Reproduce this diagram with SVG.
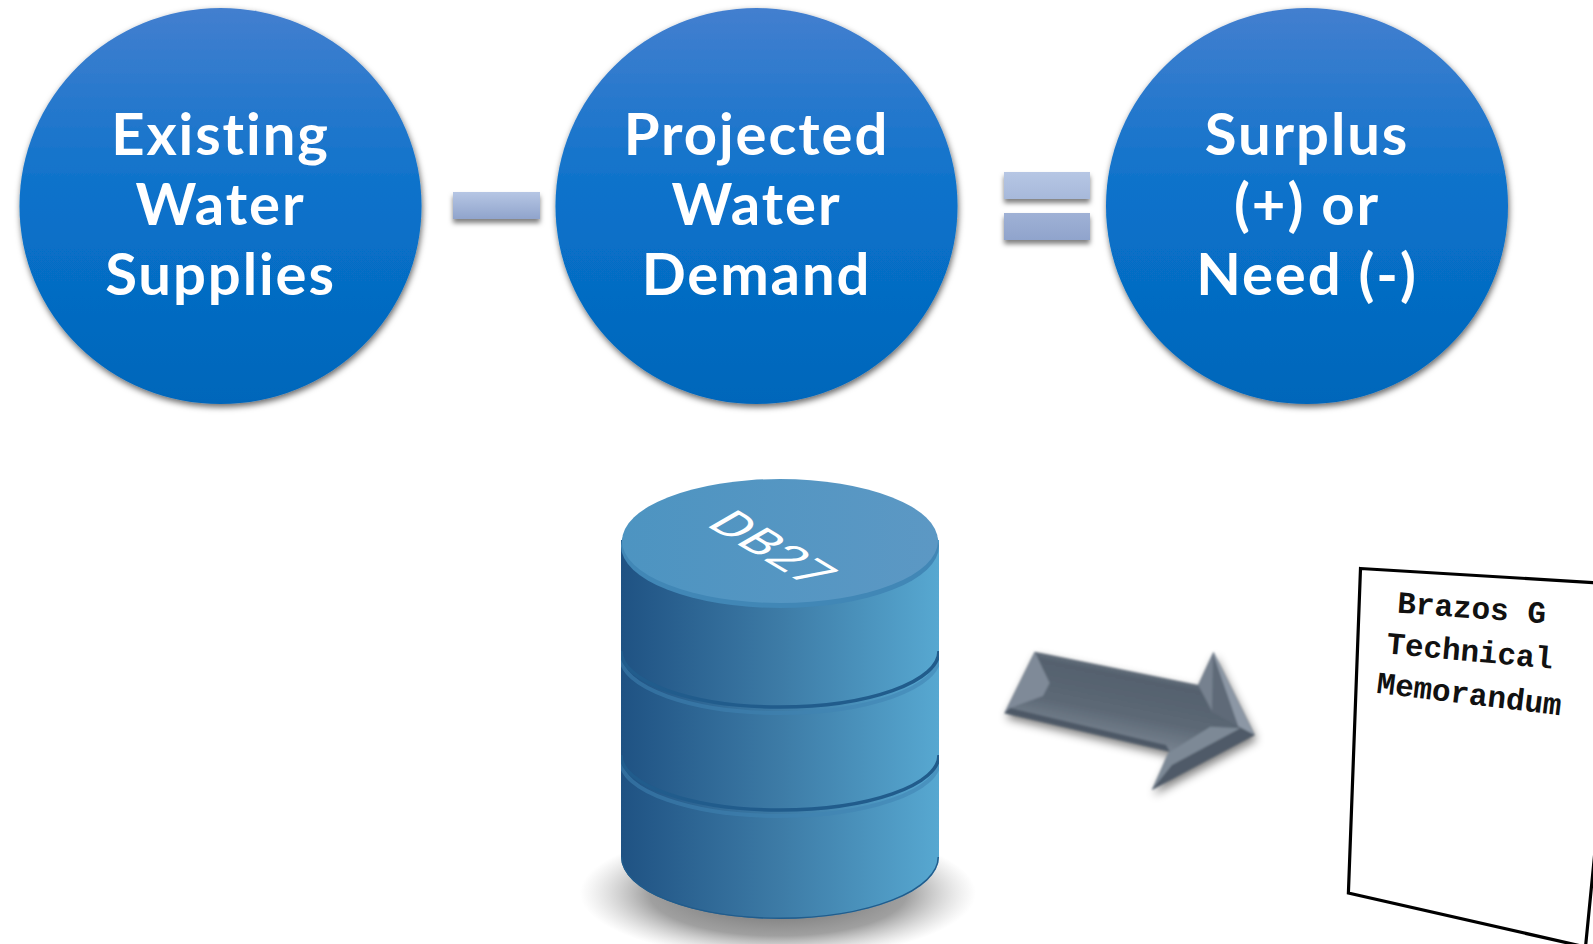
<svg xmlns="http://www.w3.org/2000/svg" width="1593" height="944" viewBox="0 0 1593 944">
<style>
.t{font-family:Lato,"Open Sans",sans-serif;font-weight:700;font-size:58px;letter-spacing:1.9px;fill:#fff;text-anchor:middle}
.m{font-family:"Liberation Mono",monospace;font-weight:700;font-size:31px;fill:#111;text-anchor:middle}
.c{fill:url(#cg);filter:url(#cs)}
.b{filter:url(#bs)}
.sep{fill:none;stroke:#215c8c;stroke-width:3.5}
.sepl{fill:none;stroke:#3f83b2;stroke-width:4;opacity:.55}
</style>
<defs>
<linearGradient id="cg" x1="0" y1="0" x2="0" y2="1"><stop offset="0" stop-color="#437fcf"/><stop offset=".5" stop-color="#0871ca"/><stop offset="1" stop-color="#0366ba"/></linearGradient>
<linearGradient id="bg1" gradientUnits="userSpaceOnUse" x1="0" y1="172" x2="0" y2="240"><stop offset="0" stop-color="#b6c6e4"/><stop offset="1" stop-color="#90a4cc"/></linearGradient>
<linearGradient id="bg2" x1="0" y1="0" x2="0" y2="1"><stop offset="0" stop-color="#b6c6e4"/><stop offset="1" stop-color="#90a4cc"/></linearGradient>
<linearGradient id="side" gradientUnits="userSpaceOnUse" x1="621" y1="0" x2="939" y2="0"><stop offset="0" stop-color="#1f5283"/><stop offset=".5" stop-color="#3d7ba6"/><stop offset="1" stop-color="#57a8d1"/></linearGradient>
<linearGradient id="top" gradientUnits="userSpaceOnUse" x1="621" y1="0" x2="939" y2="0"><stop offset="0" stop-color="#4d94c1"/><stop offset="1" stop-color="#5c98c4"/></linearGradient>
<linearGradient id="ab" gradientUnits="userSpaceOnUse" x1="1090" y1="660" x2="1075" y2="735"><stop offset="0" stop-color="#66727f"/><stop offset=".12" stop-color="#55616e"/><stop offset=".6" stop-color="#5c6875"/><stop offset="1" stop-color="#7a8592"/></linearGradient>
<radialGradient id="gs"><stop offset="0" stop-color="#555" stop-opacity=".95"/><stop offset=".65" stop-color="#777" stop-opacity=".7"/><stop offset="1" stop-color="#aaa" stop-opacity="0"/></radialGradient>
<clipPath id="body"><path d="M621,530V857A159,62 0 0 0 939,857V530Z"/></clipPath>
<filter id="cs" x="-10%" y="-10%" width="120%" height="120%"><feDropShadow dx="1" dy="3" stdDeviation="3" flood-color="#000" flood-opacity=".6"/></filter>
<filter id="bs" x="-10%" y="-30%" width="120%" height="170%"><feDropShadow dx="0" dy="4" stdDeviation="2.5" flood-color="#000" flood-opacity=".5"/></filter>
<filter id="as" x="-10%" y="-15%" width="120%" height="130%"><feGaussianBlur stdDeviation="5"/></filter>
<filter id="soft" x="-5%" y="-5%" width="110%" height="110%"><feGaussianBlur stdDeviation="1.1"/></filter>
</defs>
<rect width="1593" height="944" fill="#fff"/>

<g id="existing">
<ellipse class="c" cx="220.5" cy="206" rx="201" ry="198"/>
<text class="t" x="220.5" y="155">Existing</text><text class="t" x="220.5" y="225">Water</text><text class="t" x="220.5" y="295">Supplies</text>
</g>
<g id="minus"><rect class="b" x="453" y="192" width="87" height="27" fill="url(#bg2)"/></g>
<g id="projected">
<ellipse class="c" cx="756.5" cy="206" rx="201" ry="198"/>
<text class="t" x="756.5" y="155">Projected</text><text class="t" x="756.5" y="225">Water</text><text class="t" x="756.5" y="295">Demand</text>
</g>
<g id="equals"><rect class="b" x="1004" y="172" width="86" height="27" fill="url(#bg1)"/><rect class="b" x="1004" y="213" width="86" height="27" fill="url(#bg1)"/></g>
<g id="surplus">
<ellipse class="c" cx="1307" cy="206" rx="201" ry="198"/>
<text class="t" x="1307" y="155">Surplus</text><text class="t" x="1307" y="225">(+) or</text><text class="t" x="1307" y="295">Need (-)</text>
</g>

<g id="db27">
<ellipse cx="778" cy="893" rx="198" ry="66" fill="url(#gs)"/>
<path d="M621,540V857A159,62 0 0 0 939,857V540Z" fill="url(#side)"/>
<g clip-path="url(#body)">
<path d="M621,857A159,62 0 0 0 939,857" fill="none" stroke="#215c8c" stroke-width="3"/>
<path class="sepl" d="M621,761A159,55 0 0 0 939,761"/>
<path class="sep" d="M621,755A159,55 0 0 0 939,755"/>
<path class="sepl" d="M621,657A159,56 0 0 0 939,657"/>
<path class="sep" d="M621,651A159,56 0 0 0 939,651"/>
</g>
<ellipse cx="780" cy="546" rx="159" ry="62" fill="#4187b6"/>
<ellipse cx="780" cy="541" rx="158" ry="62" fill="url(#top)"/>
<text transform="matrix(.9 .54 -.843 .486 705 525)" font-family="Roboto,'Liberation Sans',sans-serif" font-weight="400" font-size="49" fill="#fff">DB27</text>
</g>

<g id="connectors">
<g id="arrow">
<polygon points="1034.7,651.7 1198.2,685 1213.5,651.7 1254.7,735 1151.8,790 1169.9,751.7 1004.4,713.3" fill="#000" opacity=".5" filter="url(#as)" transform="translate(2,5)"/>
<g filter="url(#soft)">
<polygon points="1034.7,651.7 1198.2,685 1213.5,651.7 1254.7,735 1151.8,790 1169.9,751.7 1004.4,713.3" fill="url(#ab)"/>
<polygon points="1034.7,651.7 1049.6,683 1043,696 1010,708 1004.4,713.3" fill="#7f8a98"/>
<polygon points="1004.4,713.3 1010,708 1166,745 1169.9,751.7" fill="#4d5966"/>
<polygon points="1213.5,651.7 1254.7,735 1238,726 1213,654" fill="#8c97a5"/>
<polygon points="1198.2,685 1213.5,651.7 1213,713" fill="#76818f"/>
<polygon points="1213,654 1238,726 1212,712" fill="#5f6a78"/>
<polygon points="1151.8,790 1167.9,753.3 1210.3,726.7 1240.6,728.3 1172,765" fill="#7d8996"/>
<polygon points="1151.8,790 1172,765 1240.6,728.3 1254.7,735" fill="#4f5a67"/>
</g>
</g>
</g>

<g id="memo">
<polygon points="1360.5,568.5 1600,583 1600,800 1585.5,947 1348.4,893" fill="#fff" stroke="#000" stroke-width="3.2"/>
<text class="m" transform="translate(1471,618) rotate(4.2)">Brazos G</text>
<text class="m" transform="translate(1469,661) rotate(5.3)">Technical</text>
<text class="m" transform="translate(1468,704) rotate(7)">Memorandum</text>
</g>
</svg>
